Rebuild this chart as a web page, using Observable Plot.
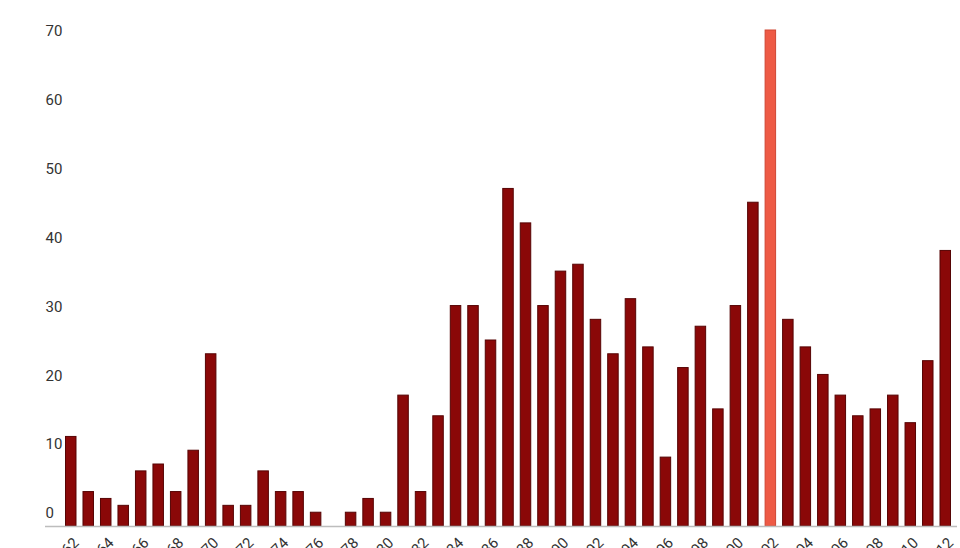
<!DOCTYPE html>
<html>
<head>
<meta charset="utf-8">
<script src="https://cdn.jsdelivr.net/npm/d3@7"></script>
<script src="https://cdn.jsdelivr.net/npm/@observablehq/plot@0.6"></script>
<style>
  html, body { margin: 0; padding: 0; background: #fff; }
  #chart { width: 960px; height: 548px; overflow: hidden; }
</style>
</head>
<body>
<div id="chart"></div>
<script>
const years = d3.range(1962, 2013).map(String);
const counts = [13, 5, 4, 3, 8, 9, 5, 11, 25, 3, 3, 8, 5, 5, 2, 0, 2, 4, 2, 19, 5, 16,
  32, 32, 27, 49, 44, 32, 37, 38, 30, 25, 33, 26, 10, 23, 29, 17, 32, 47, 72,
  30, 26, 22, 19, 16, 17, 19, 15, 24, 40];
const highlightYear = "2002";
const yTicks = [0, 10, 20, 30, 40, 50, 60, 70];
const xTicks = years.filter((d, i) => i % 2 === 0);

const data = years.map((y, i) => ({year: y, value: counts[i], hi: y === highlightYear}));

const plot = Plot.plot({
  width: 960,
  height: 548,
  marginLeft: 62,
  marginRight: 6,
  marginTop: 30,
  marginBottom: 22,
  style: {fontFamily: "Roboto, 'Liberation Sans', Arial, sans-serif", background: "#fff", overflow: "visible"},
  x: {type: "band", domain: years, paddingInner: 0.4, paddingOuter: 0.2, round: false, label: null},
  y: {domain: [0, 72], label: null},
  marks: [
    Plot.barY(data.filter(d => !d.hi), {x: "year", y: "value", fill: "#8a0808", stroke: "#560404", strokeWidth: 1}),
    Plot.barY(data.filter(d => d.hi), {x: "year", y: "value", fill: "#ee5a45", stroke: "#cf4633", strokeWidth: 1}),
    Plot.ruleY([0], {stroke: "#bdbdbd", strokeWidth: 1.5, insetLeft: -17, insetRight: -3}),
    Plot.axisY({ticks: yTicks, tickSize: 0, tickPadding: 0, textAnchor: "start", dx: -17, dy: -13, fontSize: 15, label: null, color: "#333"}),
    Plot.axisX({ticks: xTicks, tickSize: 0, tickPadding: 14, tickRotate: -45, dx: 5, fontSize: 15, label: null, color: "#333"})
  ]
});
document.getElementById("chart").appendChild(plot);
</script>
</body>
</html>
